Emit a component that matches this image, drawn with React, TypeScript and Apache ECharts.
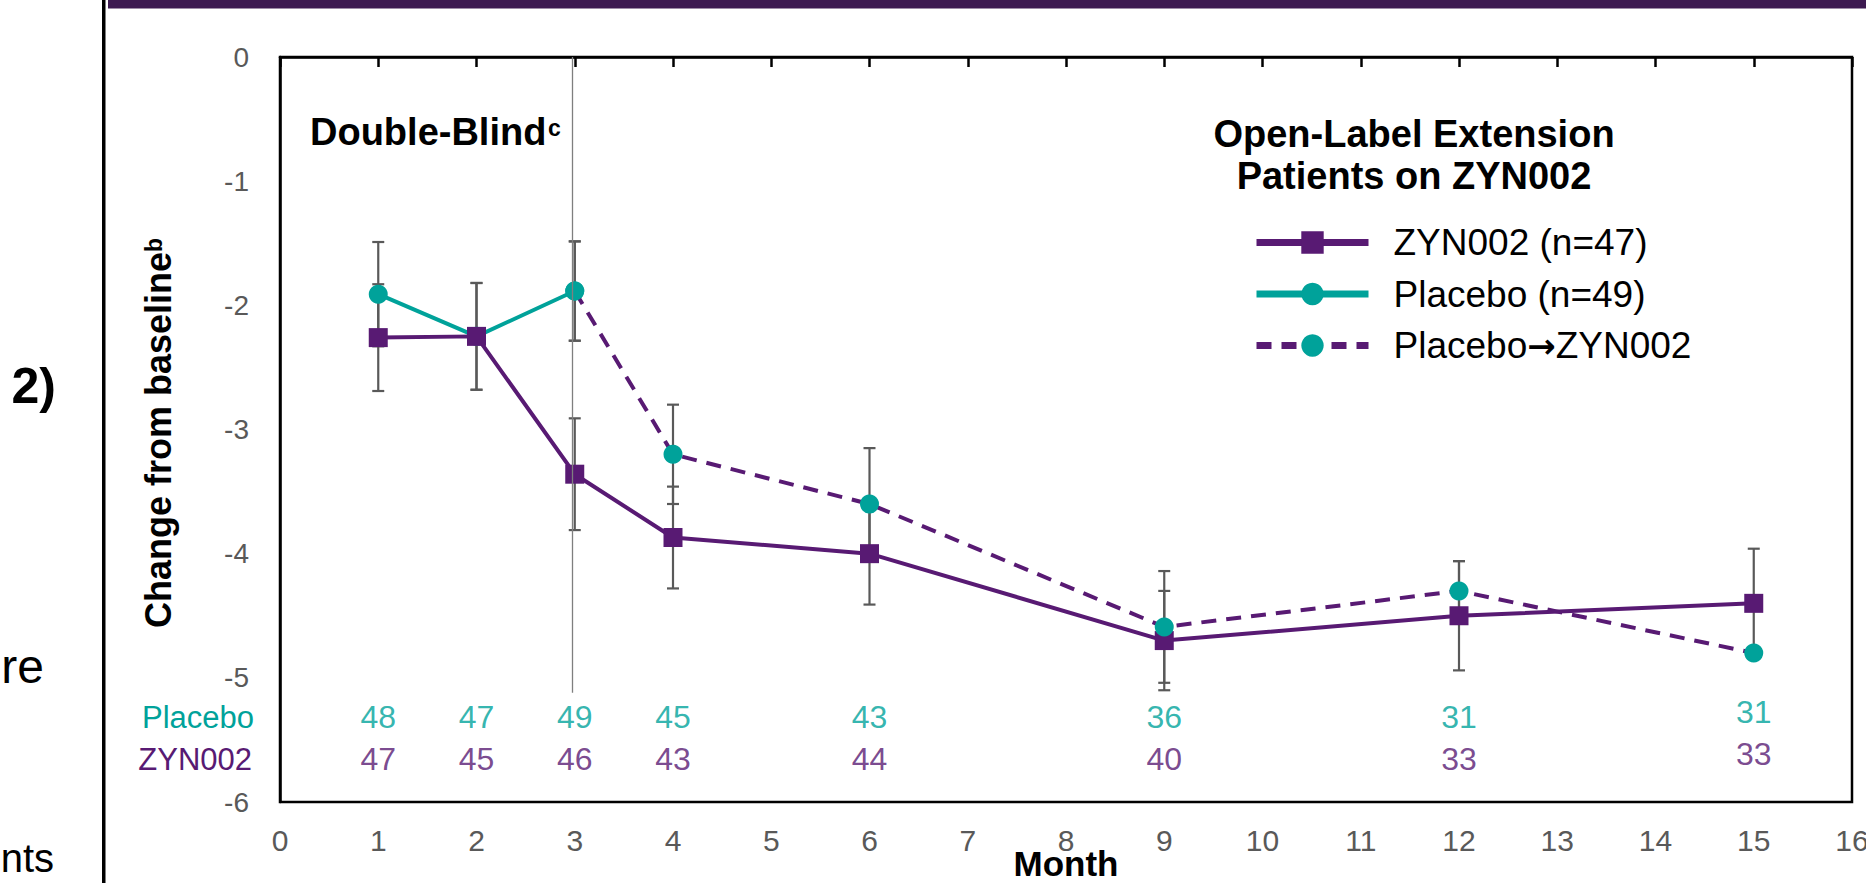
import React, { useEffect, useRef } from "react";
import * as echarts from "echarts";

// ---------- data ----------
const zynMonths = [1, 2, 3, 4, 6, 9, 12, 15];
const zynMean = [-2.26, -2.25, -3.36, -3.87, -4.0, -4.7, -4.5, -4.4];
const zynErr = [0.43, 0.43, 0.45, 0.41, 0.41, 0.4, 0.44, 0.44];

const placeboMonths = [1, 2, 3];
const placeboMean = [-1.91, -2.25, -1.885];
const placeboErr = [0.42, 0.43, 0.4];

const switchMonths = [3, 4, 6, 9, 12, 15];
const switchMean = [-1.885, -3.2, -3.6, -4.59, -4.3, -4.8];
const switchErr = [0.4, 0.4, 0.45, 0.45, 0.24, 0];

const countMonths = [1, 2, 3, 4, 6, 9, 12, 15];
const placeboN = [48, 47, 49, 45, 43, 36, 31, 31];
const zynN = [47, 45, 46, 43, 44, 40, 33, 33];

const seriesNames = ["ZYN002 (n=47)", "Placebo (n=49)", "Placebo\u2192ZYN002"];

// ---------- style ----------
const FONT = "'Liberation Sans', Arial, Helvetica, sans-serif";
const PURPLE = "#581a73";
const TEAL = "#00a29a";
const GRAY = "#595959";
const placeboRowY = -5.318;
const zynRowY = -5.655;

export default function App() {
  const ref = useRef<HTMLDivElement>(null);

  useEffect(() => {
    document.body.style.margin = "0";
    if (!ref.current) return;
    const chart = echarts.init(ref.current, null, { renderer: "svg" });

    const errData: number[][] = [];
    zynMonths.forEach((m, i) => errData.push([m, zynMean[i] - zynErr[i], zynMean[i] + zynErr[i]]));
    placeboMonths.forEach((m, i) => errData.push([m, placeboMean[i] - placeboErr[i], placeboMean[i] + placeboErr[i]]));
    switchMonths.forEach((m, i) => {
      if (switchErr[i] > 0) errData.push([m, switchMean[i] - switchErr[i], switchMean[i] + switchErr[i]]);
    });

    const countSeries = (vals: number[], rowY: number, color: string) => ({
      type: "scatter",
      silent: true,
      symbolSize: 1,
      itemStyle: { color: "transparent" },
      z: 5,
      data: countMonths.map((m, i) => ({
        value: [m, rowY],
        label: { formatter: String(vals[i]), offset: i === countMonths.length - 1 ? [0, -5] : [0, 0] },
      })),
      label: {
        show: true,
        position: "inside",
        fontSize: 32,
        fontFamily: FONT,
        color,
      },
    });

    const option: any = {
      animation: false,
      textStyle: { fontFamily: FONT },
      grid: {
        left: 280,
        top: 57,
        width: 1572,
        height: 745,
        show: true,
        containLabel: false,
        outerBoundsMode: "none",
        borderColor: "#000",
        borderWidth: 2.5,
      },
      xAxis: {
        type: "value",
        min: 0,
        max: 16,
        interval: 1,
        name: "Month",
        nameLocation: "middle",
        nameGap: 44,
        nameMoveOverlap: false,
        nameTextStyle: { fontSize: 35, fontWeight: "bold", color: "#000", fontFamily: FONT },
        axisLine: { lineStyle: { color: "#000", width: 2.5 } },
        axisTick: { show: true, length: 10, lineStyle: { color: "#000", width: 2.5 } },
        axisLabel: { fontSize: 30, color: GRAY, margin: 23, fontFamily: FONT },
        splitLine: { show: false },
      },
      yAxis: {
        type: "value",
        min: -6,
        max: 0,
        interval: 1,
        axisLine: { show: true, lineStyle: { color: "#000", width: 2.5 } },
        axisTick: { show: false },
        axisLabel: { fontSize: 28, color: GRAY, margin: 31, fontFamily: FONT },
        splitLine: { show: false },
      },
      legend: {
        orient: "vertical",
        left: 1248,
        top: 219,
        itemWidth: 112,
        itemHeight: 28,
        itemGap: 14.5,
        selectedMode: false,
        data: seriesNames,
        lineStyle: { width: 7 },
        formatter: (name: string) => name.replace("\u2192", "{arrow|\u2192}"),
        textStyle: {
          fontSize: 37,
          color: "#000",
          fontFamily: FONT,
          padding: [0, 0, 0, 20],
          rich: {
            arrow: { fontSize: 34, fontFamily: "'DejaVu Sans', sans-serif", fontWeight: "bold", color: "#000" },
          },
        },
      },
      graphic: [
        { type: "rect", shape: { x: 108, y: 0, width: 1758, height: 8.5 }, style: { fill: "#3d1a51" } },
        { type: "rect", shape: { x: 102, y: 0, width: 3.5, height: 883 }, style: { fill: "#000" } },
        {
          type: "text", x: 56, y: 386,
          style: { text: "2)", fontSize: 50, fontWeight: "bold", fontFamily: FONT, fill: "#000", align: "right", verticalAlign: "middle" },
        },
        {
          type: "text", x: 44, y: 666,
          style: { text: "re", fontSize: 48, fontFamily: FONT, fill: "#000", align: "right", verticalAlign: "middle" },
        },
        {
          type: "text", x: 54, y: 858,
          style: { text: "nts", fontSize: 40, fontFamily: FONT, fill: "#000", align: "right", verticalAlign: "middle" },
        },
        {
          type: "text", x: 158, y: 440, rotation: Math.PI / 2,
          style: { text: "Change from baseline", fontSize: 36, fontWeight: "bold", fontFamily: FONT, fill: "#000", align: "center", verticalAlign: "middle" },
        },
        {
          type: "text", x: 154, y: 245, rotation: Math.PI / 2,
          style: { text: "b", fontSize: 23, fontWeight: "bold", fontFamily: FONT, fill: "#000", align: "center", verticalAlign: "middle" },
        },
        {
          type: "text", x: 310, y: 132,
          style: { text: "Double-Blind", fontSize: 38, fontWeight: "bold", fontFamily: FONT, fill: "#000", align: "left", verticalAlign: "middle" },
        },
        {
          type: "text", x: 548, y: 128,
          style: { text: "c", fontSize: 23, fontWeight: "bold", fontFamily: FONT, fill: "#000", align: "left", verticalAlign: "middle" },
        },
        {
          type: "text", x: 1414, y: 133.5,
          style: { text: "Open-Label Extension", fontSize: 38, fontWeight: "bold", fontFamily: FONT, fill: "#000", align: "center", verticalAlign: "middle" },
        },
        {
          type: "text", x: 1414, y: 176,
          style: { text: "Patients on ZYN002", fontSize: 38, fontWeight: "bold", fontFamily: FONT, fill: "#000", align: "center", verticalAlign: "middle" },
        },
        {
          type: "text", x: 254, y: 717,
          style: { text: "Placebo", fontSize: 31, fontFamily: FONT, fill: TEAL, align: "right", verticalAlign: "middle" },
        },
        {
          type: "text", x: 252, y: 759,
          style: { text: "ZYN002", fontSize: 31, fontFamily: FONT, fill: PURPLE, align: "right", verticalAlign: "middle" },
        },
      ],
      series: [
        {
          type: "custom",
          silent: true,
          z: 1,
          data: errData,
          renderItem: (params: any, api: any) => {
            const x = api.value(0);
            const top = api.coord([x, api.value(2)]);
            const bot = api.coord([x, api.value(1)]);
            const hw = 6;
            const st = { stroke: GRAY, lineWidth: 2.2 };
            return {
              type: "group",
              children: [
                { type: "line", shape: { x1: top[0], y1: top[1], x2: bot[0], y2: bot[1] }, style: st },
                { type: "line", shape: { x1: top[0] - hw, y1: top[1], x2: top[0] + hw, y2: top[1] }, style: st },
                { type: "line", shape: { x1: bot[0] - hw, y1: bot[1], x2: bot[0] + hw, y2: bot[1] }, style: st },
              ],
            };
          },
        },
        {
          name: seriesNames[1],
          type: "line",
          z: 2,
          symbol: "circle",
          symbolSize: 19,
          itemStyle: { color: TEAL },
          lineStyle: { color: TEAL, width: 4 },
          data: placeboMonths.map((m, i) => [m, placeboMean[i]]),
        },
        {
          name: seriesNames[0],
          type: "line",
          z: 3,
          symbol: "rect",
          symbolSize: 19,
          itemStyle: { color: PURPLE },
          lineStyle: { color: PURPLE, width: 4 },
          data: zynMonths.map((m, i) => [m, zynMean[i]]),
          markLine: {
            silent: true,
            symbol: ["none", "none"],
            label: { show: false },
            lineStyle: { color: "#7f7f7f", width: 1.3, type: "solid" },
            data: [[{ coord: [2.97, 0] }, { coord: [2.97, -5.12] }]],
          },
        },
        {
          name: seriesNames[2],
          type: "line",
          z: 4,
          symbol: "circle",
          symbolSize: 19,
          itemStyle: { color: TEAL },
          lineStyle: { color: PURPLE, width: 4, type: [15, 10] },
          data: switchMonths.map((m, i) => [m, switchMean[i]]),
        },
        countSeries(placeboN, placeboRowY, TEAL),
        countSeries(zynN, zynRowY, PURPLE),
      ],
    };

    chart.setOption(option);
    return () => chart.dispose();
  }, []);

  return <div ref={ref} style={{ position: "absolute", left: 0, top: 0, width: 1866, height: 883 }} />;
}
